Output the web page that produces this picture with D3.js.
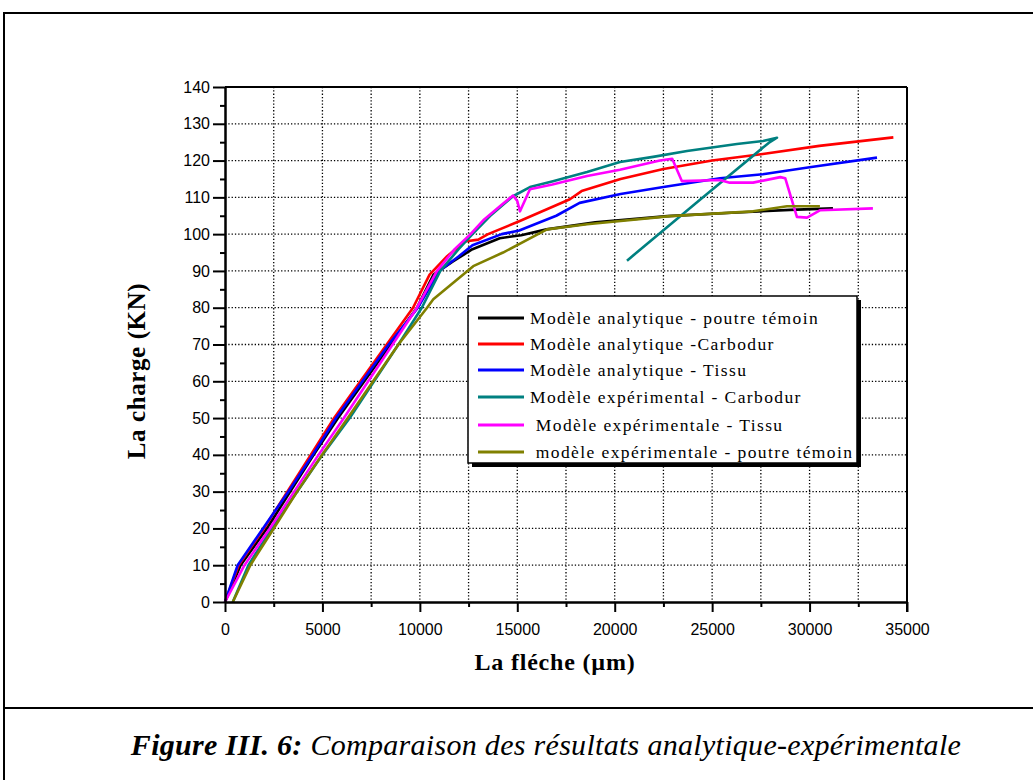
<!DOCTYPE html>
<html>
<head>
<meta charset="utf-8">
<script src="https://cdn.jsdelivr.net/npm/d3@7"></script>
<style>
  html, body { margin: 0; padding: 0; background: #fff; }
  svg { display: block; }
  text { white-space: pre; }
</style>
</head>
<body>
<svg id="chart" width="1033" height="780"></svg>
<script>
// ---------- DATA ----------
const seriesNames = [
  "Modèle analytique - poutre témoin",
  "Modèle analytique -Carbodur",
  "Modèle analytique - Tissu",
  "Modèle expérimental - Carbodur",
  " Modèle expérimentale - Tissu",
  " modèle expérimentale - poutre témoin"
];
const seriesColors = ["#000000", "#ff0000", "#0000ff", "#008080", "#ff00ff", "#808000"];

// Analytique - poutre témoin (black)
const anaTemoinX = [0, 800, 2150, 3350, 4550, 5800, 7150, 8500, 9850, 10700, 11700, 12700, 14100, 15200, 16500, 19000, 22700, 26000, 29000, 31200];
const anaTemoinY = [0, 10, 20, 30, 40, 50, 60, 70, 80, 89, 92.6, 95.9, 98.9, 99.7, 101.3, 103.2, 104.9, 105.8, 106.6, 107];

// Analytique - Carbodur (red)
const anaCarboX = [0, 700, 2000, 3200, 4400, 5600, 6950, 8300, 9650, 10500, 11400, 12300, 13000, 13500, 15100, 17700, 18300, 20300, 22500, 25000, 27600, 30500, 34300];
const anaCarboY = [0, 10, 20, 30, 40, 50, 60, 70, 80, 89, 94, 98, 98.5, 100, 103.5, 109.5, 111.7, 115, 117.7, 120, 121.8, 124, 126.3];

// Analytique - Tissu (blue)
const anaTissuX = [0, 650, 1950, 3250, 4500, 5700, 7050, 8400, 9900, 11000, 12000, 12700, 14200, 15100, 17000, 18200, 20300, 22500, 25400, 27600, 30000, 33460];
const anaTissuY = [0, 10, 20, 30, 40, 50, 60, 70, 80, 90, 94, 97, 100, 101, 105, 108.5, 110.9, 112.8, 115.2, 116.3, 118.2, 120.8];

// Expérimental - Carbodur (teal)
const expCarboX = [400, 1200, 2400, 3700, 5000, 6400, 7650, 8900, 10100, 11050, 12000, 12700, 13600, 14780, 15650, 16830, 18580, 20270, 21970, 23710, 26270, 27610, 28330, 27900, 24300, 20630];
const expCarboY = [0, 10, 20, 30, 40, 50, 60, 70, 80, 90, 96, 100, 104.9, 110.3, 112.8, 114.4, 116.9, 119.6, 121, 122.6, 124.5, 125.3, 126.2, 124.8, 109, 92.8];

// Expérimentale - Tissu (magenta)
const expTissuX = [0, 1000, 2300, 3550, 4800, 6100, 7350, 8600, 9850, 10880, 11800, 12600, 13300, 14200, 14780, 15000, 15140, 15650, 16800, 18580, 20270, 22320, 22950, 23450, 25400, 25900, 27100, 28500, 28750, 29350, 29870, 30550, 33250];
const expTissuY = [0, 10, 20, 30, 40, 50, 60, 70, 80, 90, 96, 100, 104, 108, 110.5, 109, 106.2, 112.2, 113.5, 115.8, 117.5, 120, 120.5, 114.4, 114.7, 114, 114, 115.5, 115.2, 104.7, 104.5, 106.5, 107];

// Expérimentale - poutre témoin (olive)
const expTemoinX = [400, 1300, 2500, 3700, 4980, 6300, 7600, 8900, 10370, 10690, 12740, 14270, 16525, 18580, 22840, 27100, 28840, 30530];
const expTemoinY = [0, 10, 20, 30, 40, 50, 60, 70, 80, 82.3, 91.3, 95, 101.3, 102.7, 104.9, 106.2, 107.6, 107.6];

const seriesX = [anaTemoinX, anaCarboX, anaTissuX, expCarboX, expTissuX, expTemoinX];
const seriesY = [anaTemoinY, anaCarboY, anaTissuY, expCarboY, expTissuY, expTemoinY];

const xMajorTicks = [0, 5000, 10000, 15000, 20000, 25000, 30000, 35000];
const xMinorTicks = [2500, 7500, 12500, 17500, 22500, 27500, 32500];
const yMajorTicks = [0, 10, 20, 30, 40, 50, 60, 70, 80, 90, 100, 110, 120, 130, 140];
const yMinorTicks = [5, 15, 25, 35, 45, 55, 65, 75, 85, 95, 105, 115, 125, 135];

const xTitle = "La fléche (µm)";
const yTitle = "La charge (KN)";
const captionBold = "Figure III. 6:";
const captionRest = " Comparaison des résultats analytique-expérimentale";

// ---------- DRAW ----------
const svg = d3.select("#chart");
svg.append("rect").attr("width", 1033).attr("height", 780).attr("fill", "#fff");

// outer frame
svg.append("line").attr("x1", 4).attr("x2", 1033).attr("y1", 13).attr("y2", 13).attr("stroke", "#000").attr("stroke-width", 2);
svg.append("line").attr("x1", 4).attr("x2", 4).attr("y1", 12).attr("y2", 780).attr("stroke", "#000").attr("stroke-width", 2);
svg.append("line").attr("x1", 4).attr("x2", 1033).attr("y1", 708).attr("y2", 708).attr("stroke", "#000").attr("stroke-width", 2);

const L = 225, R = 907, T = 87, B = 602;
const x = d3.scaleLinear().domain([0, 35000]).range([L, R]);
const y = d3.scaleLinear().domain([0, 140]).range([B, T]);

// grid
const grid = svg.append("g").attr("stroke", "#000").attr("stroke-width", 1.3).attr("stroke-dasharray", "1.3,2");
xMajorTicks.concat(xMinorTicks).filter(v => v > 0 && v < 35000).forEach(v => {
  grid.append("line").attr("x1", x(v)).attr("x2", x(v)).attr("y1", T).attr("y2", B);
});
yMajorTicks.filter(v => v > 0 && v < 140).forEach(v => {
  grid.append("line").attr("x1", L).attr("x2", R).attr("y1", y(v)).attr("y2", y(v));
});

// series lines
const line = d3.line().x(d => x(d[0])).y(d => y(d[1]));
seriesX.forEach((xs, i) => {
  const pts = xs.map((v, k) => [v, seriesY[i][k]]);
  svg.append("path").datum(pts).attr("d", line)
    .attr("fill", "none").attr("stroke", seriesColors[i]).attr("stroke-width", 2.6)
    .attr("stroke-linejoin", "round");
});

// axes
const tickFont = "'Liberation Sans', Arial, sans-serif";
const xAxis = svg.append("g").attr("transform", `translate(0,${B})`)
  .call(d3.axisBottom(x).tickValues(xMajorTicks).tickSize(10).tickSizeOuter(0).tickFormat(d3.format("d")));
const xMinor = svg.append("g").attr("transform", `translate(0,${B})`)
  .call(d3.axisBottom(x).tickValues(xMinorTicks).tickSize(5).tickSizeOuter(0).tickFormat(""));
const yAxis = svg.append("g").attr("transform", `translate(${L},0)`)
  .call(d3.axisLeft(y).tickValues(yMajorTicks).tickSize(12).tickSizeOuter(0).tickFormat(d3.format("d")));
const yMinor = svg.append("g").attr("transform", `translate(${L},0)`)
  .call(d3.axisLeft(y).tickValues(yMinorTicks).tickSize(5).tickSizeOuter(0).tickFormat(""));
[xAxis, xMinor, yAxis, yMinor].forEach(g => {
  g.selectAll(".domain").attr("stroke", "#000").attr("stroke-width", 2);
  g.selectAll(".tick line").attr("stroke", "#000").attr("stroke-width", 2);
  g.selectAll(".tick text").attr("fill", "#000").attr("font-family", tickFont).attr("font-size", 16);
});
xAxis.selectAll(".tick text").attr("dy", null).attr("y", 33);
yAxis.selectAll(".tick text").attr("x", -15);

// top and right border
svg.append("line").attr("x1", L).attr("x2", R).attr("y1", T).attr("y2", T).attr("stroke", "#000").attr("stroke-width", 2);
svg.append("line").attr("x1", R).attr("x2", R).attr("y1", T).attr("y2", B + 10).attr("stroke", "#000").attr("stroke-width", 2);

// axis titles
svg.append("text").attr("x", 555).attr("y", 670).attr("text-anchor", "middle")
  .attr("font-family", "'Liberation Serif', 'Times New Roman', serif").attr("font-weight", "bold")
  .attr("font-size", 24).attr("letter-spacing", 0.8).text(xTitle);
svg.append("text").attr("transform", "translate(145,371) rotate(-90)").attr("text-anchor", "middle")
  .attr("font-family", "'Liberation Serif', 'Times New Roman', serif").attr("font-weight", "bold")
  .attr("font-size", 25).attr("letter-spacing", 0.6).text(yTitle);

// legend
const lg = svg.append("g");
lg.append("rect").attr("x", 472).attr("y", 300).attr("width", 389).attr("height", 167).attr("fill", "#000");
lg.append("rect").attr("x", 468).attr("y", 296).attr("width", 389).attr("height", 167)
  .attr("fill", "#fff").attr("stroke", "#000").attr("stroke-width", 1.5);
const rowY = [318, 344, 370, 397, 425, 452];
seriesNames.forEach((name, i) => {
  lg.append("line").attr("x1", 478).attr("x2", 524).attr("y1", rowY[i]).attr("y2", rowY[i])
    .attr("stroke", seriesColors[i]).attr("stroke-width", 3);
  lg.append("text").attr("x", 530).attr("y", rowY[i] + 6)
    .attr("font-family", "'Liberation Serif', 'Times New Roman', serif").attr("font-size", 17.5)
    .attr("letter-spacing", 1.4).attr("fill", "#000").text(name);
});

// caption
const cap = svg.append("text").attr("x", 546).attr("y", 755).attr("text-anchor", "middle")
  .attr("font-family", "'Liberation Serif', 'Times New Roman', serif").attr("font-size", 30)
  .attr("letter-spacing", 0.3).attr("font-style", "italic");
cap.append("tspan").attr("font-weight", "bold").text(captionBold);
cap.append("tspan").text(captionRest);
</script>
</body>
</html>
